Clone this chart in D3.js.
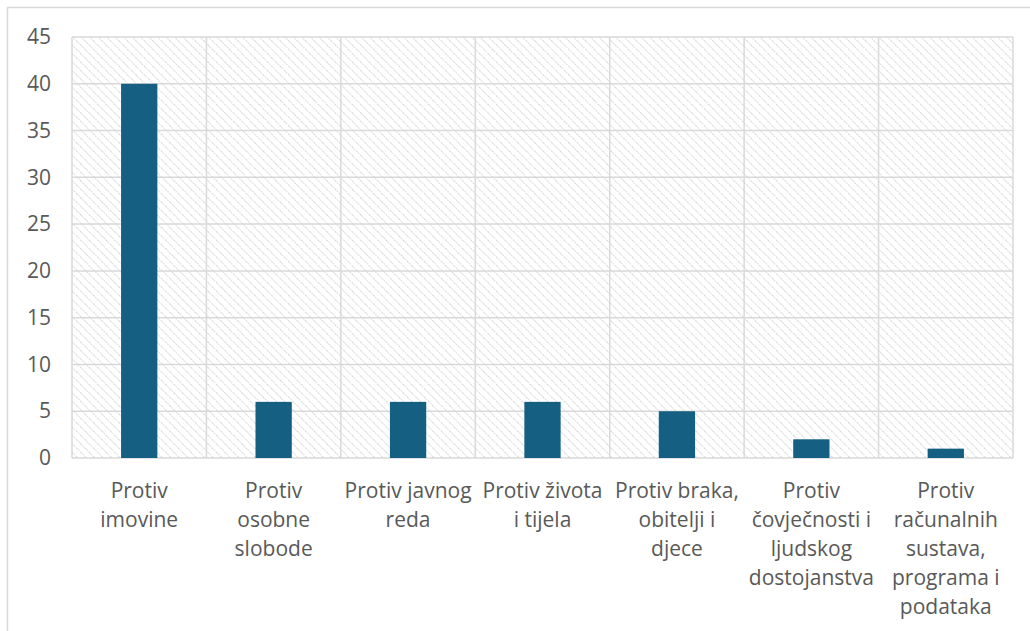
<!DOCTYPE html>
<html>
<head>
<meta charset="utf-8">
<script src="https://cdn.jsdelivr.net/npm/d3@7"></script>
<style>
  body { margin: 0; background: #fff; }
  svg { display: block; font-family: "Open Sans", sans-serif; }
</style>
</head>
<body>
<svg id="main"></svg>
<script>
// chart data
const categories = [
  ["Protiv", "imovine"],
  ["Protiv", "osobne", "slobode"],
  ["Protiv javnog", "reda"],
  ["Protiv života", "i tijela"],
  ["Protiv braka,", "obitelji i", "djece"],
  ["Protiv", "čovječnosti i", "ljudskog", "dostojanstva"],
  ["Protiv", "računalnih", "sustava,", "programa i", "podataka"]
];
const values = [40, 6, 6, 6, 5, 2, 1];
const yTicks = [0, 5, 10, 15, 20, 25, 30, 35, 40, 45];

const W = 1030, H = 631;
const margin = {top: 37, right: 17, bottom: 173, left: 72};
const width = W - margin.left - margin.right;
const height = H - margin.top - margin.bottom;

const svg = d3.select("#main").attr("width", W).attr("height", H);

// hatch pattern for plot background
const pat = svg.append("defs").append("pattern")
    .attr("id", "hatch")
    .attr("patternUnits", "userSpaceOnUse")
    .attr("width", 6).attr("height", 6)
    .attr("patternTransform", "rotate(-45)");
pat.append("rect").attr("width", 6).attr("height", 6).attr("fill", "#fff");
pat.append("line")
    .attr("x1", 0).attr("y1", 0).attr("x2", 0).attr("y2", 6)
    .attr("stroke", "#d6d6d6").attr("stroke-width", 2)
    .attr("stroke-dasharray", "1.5,1");

// chart area border
svg.append("rect")
    .attr("x", 7.5).attr("y", 7.5)
    .attr("width", W + 20).attr("height", H + 20)
    .attr("fill", "none").attr("stroke", "#d9d9d9").attr("stroke-width", 1.5);

const g = svg.append("g")
    .attr("transform", "translate(" + margin.left + "," + margin.top + ")");

const x = d3.scaleBand()
    .domain(d3.range(categories.length))
    .range([0, width]);

const y = d3.scaleLinear()
    .domain([0, 45])
    .range([height, 0]);

g.append("rect")
    .attr("width", width).attr("height", height)
    .attr("fill", "url(#hatch)");

// horizontal gridlines
g.selectAll(".hgrid")
    .data(yTicks)
    .enter().append("line")
    .attr("x1", 0).attr("x2", width)
    .attr("y1", d => y(d)).attr("y2", d => y(d))
    .attr("stroke", "#d9d9d9").attr("stroke-width", 1.5);

// vertical gridlines at category boundaries
g.selectAll(".vgrid")
    .data(d3.range(categories.length + 1))
    .enter().append("line")
    .attr("x1", d => d * x.step()).attr("x2", d => d * x.step())
    .attr("y1", 0).attr("y2", height)
    .attr("stroke", "#d9d9d9").attr("stroke-width", 1.5);

// bars
const barW = x.bandwidth() * 0.27;
g.selectAll(".bar")
    .data(values)
    .enter().append("rect")
    .attr("x", (d, i) => x(i) + (x.bandwidth() - barW) / 2)
    .attr("y", d => y(d))
    .attr("width", barW)
    .attr("height", d => height - y(d))
    .attr("fill", "#156082");

// y axis
const yAxis = g.append("g")
    .call(d3.axisLeft(y).tickValues(yTicks).tickSize(0).tickPadding(21));
yAxis.select(".domain").remove();
yAxis.selectAll("text")
    .attr("fill", "#595959")
    .style("font-size", "21px")
    .style("font-family", "'Open Sans', sans-serif");

// x axis labels
const labels = g.selectAll(".xlab")
    .data(categories)
    .enter().append("text")
    .attr("text-anchor", "middle")
    .attr("fill", "#595959")
    .style("font-size", "21px")
    .attr("transform", (d, i) => "translate(" + (x(i) + x.bandwidth() / 2) + "," + (height + 40) + ")");
labels.selectAll("tspan")
    .data(d => d)
    .enter().append("tspan")
    .attr("x", 0)
    .attr("y", (d, i) => i * 29)
    .text(d => d);
</script>
</body>
</html>
